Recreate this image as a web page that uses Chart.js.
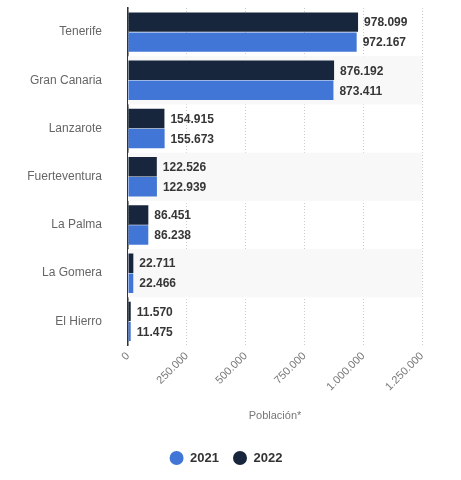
<!DOCTYPE html>
<html>
<head>
<meta charset="utf-8">
<script src="https://cdn.jsdelivr.net/npm/chart.js@4"></script>
<style>
html,body{margin:0;padding:0;background:#fff;}
#wrap{width:461px;height:480px;position:relative;}
</style>
</head>
<body>
<div id="wrap"><canvas id="c"></canvas></div>
<script>
const categories = ['Tenerife','Gran Canaria','Lanzarote','Fuerteventura','La Palma','La Gomera','El Hierro'];
const values2021 = [972167, 873411, 155673, 122939, 86238, 22466, 11475];
const values2022 = [978099, 876192, 154915, 122526, 86451, 22711, 11570];
const xTicks = [0, 250000, 500000, 750000, 1000000, 1250000];
const axisTitle = 'Población*';

function fmt(v){ return String(v).replace(/\B(?=(\d{3})+(?!\d))/g,'.'); }

const bandPlugin = {
  id:'bands',
  beforeDatasetsDraw(chart){
    const {ctx, chartArea, scales:{y}} = chart;
    const step = (chartArea.bottom - chartArea.top) / categories.length;
    ctx.save();
    ctx.fillStyle = '#f8f8f8';
    categories.forEach((c,i)=>{
      if(i%2===1){
        const cy = y.getPixelForValue(i);
        ctx.fillRect(chartArea.left, cy - step/2, chartArea.right - chartArea.left, step);
      }
    });
    ctx.restore();
  }
};

const labelPlugin = {
  id:'vlabels',
  afterDatasetsDraw(chart){
    const ctx = chart.ctx;
    ctx.save();
    ctx.font = 'bold 12px "Liberation Sans", Arial, sans-serif';
    ctx.fillStyle = '#363636';
    ctx.textAlign = 'left';
    ctx.textBaseline = 'middle';
    chart.data.datasets.forEach((ds,di)=>{
      chart.getDatasetMeta(di).data.forEach((bar,i)=>{
        ctx.fillText(fmt(ds.data[i]), bar.x + 6, bar.y + 1);
      });
    });
    ctx.restore();
  }
};

const legendShift = {
  id:'legendShift',
  afterLayout(chart){
    const lg = chart.legend;
    if(lg){ lg.left += 15; lg.right += 15; }
  }
};

new Chart(document.getElementById('c'), {
  type:'bar',
  data:{
    labels: categories,
    datasets:[
      {label:'2022', data: values2022, backgroundColor:'#17263d', categoryPercentage:0.83, barPercentage:0.97},
      {label:'2021', data: values2021, backgroundColor:'#4276d6', categoryPercentage:0.83, barPercentage:0.97}
    ]
  },
  options:{
    indexAxis:'y',
    responsive:true,
    maintainAspectRatio:false,
    animation:false,
    layout:{padding:{left:0,right:39,top:8,bottom:5.5}},
    scales:{
      x:{
        min:0, max:1250000,
        afterBuildTicks(s){ s.ticks = xTicks.map(v=>({value:v})); },
        afterFit(s){ s.height = 92; },
        ticks:{
          minRotation:45, maxRotation:45,
          color:'#777777',
          font:{family:'"Liberation Sans", Arial, sans-serif', size:11},
          padding:4,
          callback:(v)=>fmt(v)
        },
        grid:{color:'#cccccc', drawTicks:false, lineWidth:1},
        border:{display:false, dash:[1,2]},
        title:{display:true, text:axisTitle, color:'#777777', font:{family:'"Liberation Sans", Arial, sans-serif', size:11}, padding:{top:0,bottom:15}}
      },
      y:{
        afterFit(s){ s.width = 128; },
        ticks:{color:'#666666', font:{family:'"Liberation Sans", Arial, sans-serif', size:12}, padding:0},
        grid:{display:true, color:'rgba(0,0,0,0)', drawTicks:true, tickLength:26, tickColor:'rgba(0,0,0,0)'},
        border:{display:true, color:'#333333', width:1.5}
      }
    },
    plugins:{
      legend:{
        position:'bottom',
        reverse:true,
        labels:{
          usePointStyle:true, pointStyle:'circle', pointStyleWidth:14, boxHeight:10,
          color:'#333333', padding:14,
          font:{family:'"Liberation Sans", Arial, sans-serif', size:13, weight:'bold'}
        }
      },
      tooltip:{enabled:false}
    }
  },
  plugins:[bandPlugin, labelPlugin, legendShift]
});
</script>
</body>
</html>
